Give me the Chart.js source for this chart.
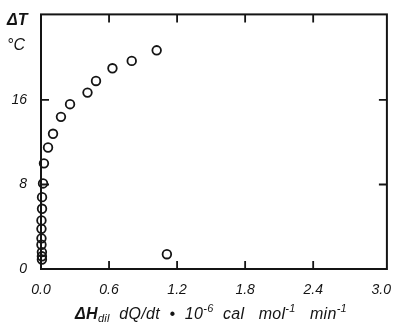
<!DOCTYPE html>
<html>
<head>
<meta charset="utf-8">
<script src="https://cdn.jsdelivr.net/npm/chart.js@4"></script>
<style>
  html, body { margin: 0; padding: 0; background: #fff; }
  #wrap { width: 393px; height: 324px; }
</style>
</head>
<body>
<div id="wrap"><canvas id="chartDilucion"></canvas></div>
<script>
// heat flow of dilution (x) vs temperature rise (y)
const flujoCalor = [1.02, 0.80, 0.63, 0.485, 0.41, 0.256, 0.176, 0.106, 0.062, 0.026, 0.018, 0.009, 0.009, 0.004, 0.004, 0.004, 0.004, 0.008, 0.008, 0.008, 1.11];
const deltaT     = [20.7, 19.7, 19.0, 17.8, 16.7, 15.6, 14.4, 12.8, 11.5, 10.0, 8.1, 6.8, 5.7, 4.6, 3.8, 2.9, 2.3, 1.6, 1.2, 0.9, 1.4];

const ticksX = [0, 0.6, 1.2, 1.8, 2.4, 3.0];
const ticksY = [0, 8, 16];

const FUENTE = "'Liberation Sans', Arial, sans-serif";
const TINTA = "#141414";

// frame, inward ticks and the hand-set axis titles
const marcoPlugin = {
    id: "marco",
    beforeDatasetsDraw(chart) {
        const { ctx, chartArea: a, scales } = chart;
        ctx.save();
        ctx.strokeStyle = TINTA;
        ctx.lineWidth = 2;
        ctx.strokeRect(a.left, a.top, a.right - a.left, a.bottom - a.top);
        ctx.lineWidth = 1.8;
        ctx.beginPath();
        ticksX.slice(1, -1).forEach((v) => {
            const x = scales.x.getPixelForValue(v);
            ctx.moveTo(x, a.bottom); ctx.lineTo(x, a.bottom - 8);
            ctx.moveTo(x, a.top); ctx.lineTo(x, a.top + 8);
        });
        ticksY.slice(1).forEach((v) => {
            const y = scales.y.getPixelForValue(v);
            ctx.moveTo(a.left, y); ctx.lineTo(a.left + 8, y);
            ctx.moveTo(a.right, y); ctx.lineTo(a.right - 8, y);
        });
        ctx.stroke();
        ctx.restore();
    },
    afterDraw(chart) {
        const { ctx } = chart;
        ctx.save();
        ctx.fillStyle = TINTA;
        ctx.textBaseline = "alphabetic";

        // y title
        ctx.font = "italic bold 16px " + FUENTE;
        ctx.fillText("ΔT", 7, 25);
        ctx.font = "italic 16px " + FUENTE;
        ctx.fillText("°C", 7, 50);

        // x title with sub/superscripts
        const partes = [
            { t: "ΔH", f: "italic bold 16px", dy: 0 },
            { t: "dil", f: "italic 11px", dy: 3 },
            { t: "  dQ/dt  •  10", f: "italic 16px", dy: 0 },
            { t: "-6", f: "italic 11px", dy: -7 },
            { t: "  cal   mol", f: "italic 16px", dy: 0 },
            { t: "-1", f: "italic 11px", dy: -7 },
            { t: "   min", f: "italic 16px", dy: 0 },
            { t: "-1", f: "italic 11px", dy: -7 }
        ];
        ctx.letterSpacing = "0.3px";
        let total = 0;
        partes.forEach((p) => {
            ctx.font = p.f + " " + FUENTE;
            p.w = ctx.measureText(p.t).width;
            total += p.w;
        });
        let x = 211 - total / 2;
        partes.forEach((p) => {
            ctx.font = p.f + " " + FUENTE;
            ctx.fillText(p.t, x, 319 + p.dy);
            x += p.w;
        });
        ctx.restore();
    }
};

const ctx = document.getElementById("chartDilucion").getContext("2d");

new Chart(ctx, {
    type: "scatter",
    data: {
        datasets: [
            {
                data: flujoCalor.map((v, i) => ({ x: v, y: deltaT[i] })),
                pointStyle: "circle",
                pointRadius: 4.3,
                pointBorderWidth: 1.8,
                borderColor: TINTA,
                backgroundColor: "rgba(0,0,0,0)",
                clip: false
            }
        ]
    },
    options: {
        responsive: true,
        maintainAspectRatio: false,
        animation: false,
        layout: { padding: { top: 14, right: 6, left: 0, bottom: 0 } },
        plugins: {
            legend: { display: false },
            tooltip: { enabled: false }
        },
        scales: {
            x: {
                type: "linear",
                min: 0,
                max: 3.05,
                afterBuildTicks: (scale) => { scale.ticks = ticksX.map((v) => ({ value: v })); },
                afterFit: (scale) => {
                    scale.height = 55;
                    scale.paddingLeft = 0;
                    scale.paddingRight = 0;
                },
                grid: { display: false },
                border: { display: false },
                ticks: {
                    color: TINTA,
                    padding: 5,
                    maxRotation: 0,
                    font: { family: FUENTE, size: 14, style: "italic" },
                    callback: (val) => Number(val).toFixed(1)
                }
            },
            y: {
                type: "linear",
                min: 0,
                max: 24.1,
                afterBuildTicks: (scale) => { scale.ticks = ticksY.map((v) => ({ value: v })); },
                afterFit: (scale) => { scale.width = 41; },
                grid: { display: false },
                border: { display: false },
                ticks: {
                    color: TINTA,
                    padding: 6,
                    font: { family: FUENTE, size: 14, style: "italic" }
                }
            }
        }
    },
    plugins: [marcoPlugin]
});
</script>
</body>
</html>
